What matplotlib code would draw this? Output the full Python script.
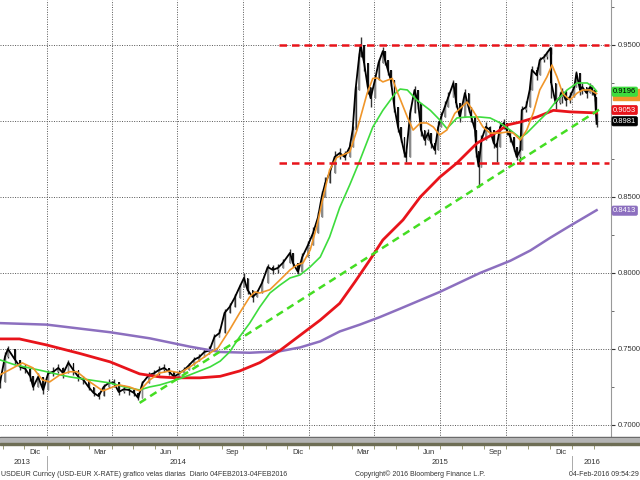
# USDEUR daily candles with moving averages, Bloomberg style
import pandas as pd
import matplotlib.pyplot as plt
import matplotlib.dates as mdates
import matplotlib.transforms as mtransforms
from matplotlib.patches import Rectangle
from matplotlib.ticker import MultipleLocator, FuncFormatter

plt.rcParams['font.family'] = ['Liberation Sans', 'DejaVu Sans']

# price readings (close, high, low)
dates = [
    '2013-10-28', '2013-11-04', '2013-11-08', '2013-11-18', '2013-11-25', '2013-12-02', '2013-12-09', '2013-12-13',
    '2013-12-20', '2013-12-27', '2014-01-03', '2014-01-10', '2014-01-17', '2014-01-24', '2014-01-31', '2014-02-07',
    '2014-02-14', '2014-02-21', '2014-02-28', '2014-03-07', '2014-03-14', '2014-03-21', '2014-03-28', '2014-04-04',
    '2014-04-11', '2014-04-18', '2014-04-25', '2014-05-02', '2014-05-08', '2014-05-14', '2014-05-23', '2014-05-30',
    '2014-06-06', '2014-06-13', '2014-06-20', '2014-06-27', '2014-07-04', '2014-07-11', '2014-07-18', '2014-07-25',
    '2014-08-01', '2014-08-08', '2014-08-15', '2014-08-22', '2014-08-29', '2014-09-05', '2014-09-12', '2014-09-19',
    '2014-09-26', '2014-10-02', '2014-10-07', '2014-10-14', '2014-10-20', '2014-10-27', '2014-11-04', '2014-11-11',
    '2014-11-18', '2014-11-25', '2014-12-05', '2014-12-09', '2014-12-16', '2014-12-22', '2014-12-30', '2015-01-06',
    '2015-01-13', '2015-01-18', '2015-01-23', '2015-01-29', '2015-02-05', '2015-02-12', '2015-02-19', '2015-02-26',
    '2015-03-02', '2015-03-06', '2015-03-11', '2015-03-13', '2015-03-18', '2015-03-23', '2015-03-27', '2015-04-02',
    '2015-04-07', '2015-04-13', '2015-04-16', '2015-04-20', '2015-04-24', '2015-04-29', '2015-05-04', '2015-05-08',
    '2015-05-13', '2015-05-15', '2015-05-21', '2015-05-27', '2015-06-01', '2015-06-05', '2015-06-10', '2015-06-15',
    '2015-06-19', '2015-06-24', '2015-06-29', '2015-07-03', '2015-07-08', '2015-07-13', '2015-07-20', '2015-07-24',
    '2015-07-29', '2015-08-05', '2015-08-10', '2015-08-14', '2015-08-19', '2015-08-21', '2015-08-24', '2015-08-28',
    '2015-09-03', '2015-09-09', '2015-09-14', '2015-09-18', '2015-09-23', '2015-09-28', '2015-10-02', '2015-10-07',
    '2015-10-12', '2015-10-16', '2015-10-21', '2015-10-23', '2015-10-29', '2015-11-03', '2015-11-06', '2015-11-13',
    '2015-11-17', '2015-11-23', '2015-11-27', '2015-12-02', '2015-12-03', '2015-12-09', '2015-12-15', '2015-12-18',
    '2015-12-23', '2015-12-29', '2016-01-04', '2016-01-07', '2016-01-12', '2016-01-15', '2016-01-21', '2016-01-26',
    '2016-01-29', '2016-02-02', '2016-02-03', '2016-02-04',
]
close = [
    0.7280, 0.7450, 0.7500, 0.7428, 0.7382, 0.7370, 0.7320, 0.7250,
    0.7316, 0.7230, 0.7340, 0.7350, 0.7375, 0.7340, 0.7410, 0.7360,
    0.7316, 0.7296, 0.7250, 0.7211, 0.7190, 0.7250, 0.7276, 0.7280,
    0.7217, 0.7235, 0.7230, 0.7211, 0.7178, 0.7276, 0.7329, 0.7340,
    0.7362, 0.7375, 0.7350, 0.7316, 0.7340, 0.7362, 0.7395, 0.7430,
    0.7447, 0.7480, 0.7490, 0.7579, 0.7605, 0.7737, 0.7776, 0.7836,
    0.7908, 0.7967, 0.7888, 0.7842, 0.7868, 0.7934, 0.8039, 0.8020,
    0.8033, 0.8066, 0.8132, 0.8066, 0.8007, 0.8105, 0.8184, 0.8263,
    0.8368, 0.8500, 0.8592, 0.8658, 0.8763, 0.8789, 0.8763, 0.8829,
    0.8941, 0.9204, 0.9421, 0.9500, 0.9380, 0.9224, 0.9150, 0.9270,
    0.9382, 0.9460, 0.9401, 0.9336, 0.9270, 0.9092, 0.8961, 0.8895,
    0.8789, 0.8763, 0.9053, 0.9204, 0.9118, 0.8941, 0.8875, 0.8921,
    0.8855, 0.8809, 0.8961, 0.9026, 0.9092, 0.9158, 0.9250, 0.9118,
    0.9026, 0.9184, 0.9092, 0.9026, 0.8941, 0.8800, 0.8700, 0.8875,
    0.8961, 0.8941, 0.8855, 0.8829, 0.8961, 0.8987, 0.8941, 0.8895,
    0.8829, 0.8763, 0.8810, 0.9072, 0.9092, 0.9204, 0.9336, 0.9300,
    0.9401, 0.9421, 0.9447, 0.9480, 0.9250, 0.9120, 0.9158, 0.9200,
    0.9138, 0.9158, 0.9224, 0.9316, 0.9204, 0.9224, 0.9184, 0.9224,
    0.9204, 0.9158, 0.9053, 0.8981,
]
high = [
    0.7310, 0.7480, 0.7520, 0.7460, 0.7420, 0.7400, 0.7350, 0.7290,
    0.7340, 0.7260, 0.7360, 0.7380, 0.7400, 0.7380, 0.7430, 0.7400,
    0.7350, 0.7320, 0.7290, 0.7250, 0.7220, 0.7270, 0.7300, 0.7300,
    0.7260, 0.7260, 0.7250, 0.7240, 0.7210, 0.7290, 0.7350, 0.7360,
    0.7390, 0.7400, 0.7375, 0.7350, 0.7360, 0.7380, 0.7410, 0.7450,
    0.7470, 0.7500, 0.7520, 0.7600, 0.7630, 0.7760, 0.7800, 0.7860,
    0.7930, 0.8000, 0.7930, 0.7870, 0.7890, 0.7960, 0.8060, 0.8050,
    0.8060, 0.8090, 0.8160, 0.8100, 0.8040, 0.8130, 0.8210, 0.8300,
    0.8400, 0.8540, 0.8630, 0.8690, 0.8800, 0.8820, 0.8800, 0.8860,
    0.8970, 0.9230, 0.9450, 0.9553, 0.9450, 0.9260, 0.9200, 0.9300,
    0.9410, 0.9490, 0.9440, 0.9380, 0.9310, 0.9150, 0.9000, 0.8930,
    0.8830, 0.8800, 0.9080, 0.9230, 0.9160, 0.8980, 0.8910, 0.8950,
    0.8890, 0.8850, 0.9000, 0.9060, 0.9130, 0.9190, 0.9270, 0.9160,
    0.9060, 0.9210, 0.9130, 0.9060, 0.8980, 0.8850, 0.8780, 0.8910,
    0.8990, 0.8970, 0.8890, 0.8860, 0.8990, 0.9010, 0.8980, 0.8930,
    0.8870, 0.8800, 0.8840, 0.9100, 0.9130, 0.9230, 0.9360, 0.9355,
    0.9420, 0.9440, 0.9460, 0.9490, 0.9300, 0.9184, 0.9190, 0.9220,
    0.9170, 0.9190, 0.9250, 0.9330, 0.9240, 0.9250, 0.9220, 0.9250,
    0.9240, 0.9200, 0.9150, 0.9030,
]
low = [
    0.7240, 0.7420, 0.7440, 0.7400, 0.7360, 0.7340, 0.7290, 0.7230,
    0.7280, 0.7205, 0.7300, 0.7320, 0.7340, 0.7310, 0.7370, 0.7330,
    0.7290, 0.7270, 0.7230, 0.7190, 0.7170, 0.7200, 0.7240, 0.7250,
    0.7200, 0.7210, 0.7200, 0.7190, 0.7165, 0.7250, 0.7300, 0.7320,
    0.7330, 0.7350, 0.7330, 0.7300, 0.7310, 0.7340, 0.7370, 0.7400,
    0.7420, 0.7450, 0.7470, 0.7540, 0.7580, 0.7700, 0.7740, 0.7800,
    0.7870, 0.7930, 0.7860, 0.7810, 0.7840, 0.7900, 0.8000, 0.7990,
    0.8000, 0.8030, 0.8100, 0.8040, 0.7990, 0.8070, 0.8150, 0.8230,
    0.8330, 0.8460, 0.8550, 0.8620, 0.8720, 0.8750, 0.8740, 0.8790,
    0.8900, 0.9150, 0.9380, 0.9460, 0.9330, 0.9180, 0.9092, 0.9220,
    0.9340, 0.9420, 0.9370, 0.9300, 0.9230, 0.9060, 0.8930, 0.8860,
    0.8760, 0.8730, 0.9010, 0.9160, 0.9080, 0.8900, 0.8840, 0.8890,
    0.8820, 0.8780, 0.8930, 0.8990, 0.9060, 0.9120, 0.9210, 0.9090,
    0.8990, 0.9150, 0.9060, 0.8990, 0.8900, 0.8763, 0.8566, 0.8840,
    0.8930, 0.8910, 0.8820, 0.8730, 0.8930, 0.8950, 0.8910, 0.8860,
    0.8800, 0.8740, 0.8730, 0.9020, 0.9060, 0.9170, 0.9290, 0.9270,
    0.9360, 0.9390, 0.9410, 0.9440, 0.9150, 0.9080, 0.9110, 0.9118,
    0.9100, 0.9120, 0.9190, 0.9270, 0.9170, 0.9180, 0.9150, 0.9190,
    0.9170, 0.9130, 0.9030, 0.8960,
]

# moving averages
ma20_dates = [
    '2013-10-28', '2013-11-10', '2013-11-28', '2013-12-13', '2013-12-26', '2014-01-05', '2014-01-19', '2014-02-02',
    '2014-02-12', '2014-02-26', '2014-03-12', '2014-03-20', '2014-04-03', '2014-04-12', '2014-04-26', '2014-05-10',
    '2014-05-24', '2014-06-07', '2014-06-21', '2014-07-05', '2014-07-19', '2014-08-02', '2014-08-16', '2014-08-27',
    '2014-09-12', '2014-09-26', '2014-10-10', '2014-10-17', '2014-10-24', '2014-11-07', '2014-11-21', '2014-12-05',
    '2014-12-15', '2014-12-23', '2015-01-02', '2015-01-11', '2015-01-20', '2015-01-29', '2015-02-08', '2015-02-26',
    '2015-03-08', '2015-03-22', '2015-03-30', '2015-04-05', '2015-04-13', '2015-04-26', '2015-05-04', '2015-05-17',
    '2015-05-25', '2015-06-04', '2015-06-13', '2015-06-22', '2015-07-01', '2015-07-11', '2015-07-22', '2015-08-08',
    '2015-08-16', '2015-08-30', '2015-09-09', '2015-09-23', '2015-10-03', '2015-10-11', '2015-10-21', '2015-10-30',
    '2015-11-08', '2015-11-17', '2015-11-27', '2015-12-04', '2015-12-11', '2015-12-19', '2015-12-29', '2016-01-08',
    '2016-01-16', '2016-01-26', '2016-02-04',
]
ma20 = [
    0.7330, 0.7362, 0.7408, 0.7375, 0.7296, 0.7283, 0.7329, 0.7350,
    0.7350, 0.7296, 0.7250, 0.7224, 0.7250, 0.7263, 0.7250, 0.7224,
    0.7296, 0.7342, 0.7355, 0.7342, 0.7382, 0.7428, 0.7474, 0.7507,
    0.7625, 0.7737, 0.7842, 0.7875, 0.7868, 0.7890, 0.7954, 0.8020,
    0.8053, 0.8066, 0.8151, 0.8303, 0.8500, 0.8678, 0.8760, 0.8796,
    0.8940, 0.9180, 0.9280, 0.9283, 0.9257, 0.9280, 0.9180, 0.9026,
    0.8940, 0.8987, 0.8987, 0.8961, 0.8908, 0.8941, 0.9050, 0.9125,
    0.9070, 0.8961, 0.8920, 0.8921, 0.8928, 0.8921, 0.8875, 0.8941,
    0.9053, 0.9204, 0.9290, 0.9368, 0.9290, 0.9180, 0.9138, 0.9184,
    0.9204, 0.9204, 0.9180,
]
ma50_dates = [
    '2013-10-28', '2013-11-18', '2013-12-08', '2014-01-01', '2014-01-19', '2014-02-02', '2014-03-02', '2014-03-30',
    '2014-04-19', '2014-05-10', '2014-05-24', '2014-06-07', '2014-06-30', '2014-07-19', '2014-08-16', '2014-08-30',
    '2014-09-12', '2014-09-26', '2014-10-10', '2014-10-24', '2014-11-07', '2014-11-21', '2014-12-05', '2014-12-19',
    '2015-01-02', '2015-01-16', '2015-01-29', '2015-02-12', '2015-02-26', '2015-03-12', '2015-03-30', '2015-04-13',
    '2015-04-30', '2015-05-07', '2015-05-17', '2015-05-30', '2015-06-18', '2015-07-01', '2015-07-11', '2015-07-25',
    '2015-08-08', '2015-08-26', '2015-09-09', '2015-09-23', '2015-10-07', '2015-10-21', '2015-10-30', '2015-11-13',
    '2015-11-27', '2015-12-11', '2015-12-25', '2016-01-08', '2016-01-22', '2016-01-30', '2016-02-04',
]
ma50 = [
    0.7428, 0.7395, 0.7375, 0.7350, 0.7330, 0.7316, 0.7296, 0.7276,
    0.7250, 0.7230, 0.7250, 0.7263, 0.7296, 0.7330, 0.7382, 0.7420,
    0.7480, 0.7580, 0.7670, 0.7776, 0.7868, 0.7920, 0.7967, 0.7987,
    0.8040, 0.8105, 0.8237, 0.8430, 0.8580, 0.8740, 0.8960, 0.9070,
    0.9180, 0.9210, 0.9204, 0.9138, 0.9070, 0.9007, 0.8950, 0.9020,
    0.9026, 0.9026, 0.9020, 0.8987, 0.8940, 0.8888, 0.8920, 0.8987,
    0.9053, 0.9138, 0.9204, 0.9250, 0.9250, 0.9224, 0.9196,
]
ma100_dates = [
    '2013-10-28', '2013-11-24', '2014-01-01', '2014-02-16', '2014-03-30', '2014-05-10', '2014-06-07', '2014-06-30',
    '2014-08-02', '2014-08-30', '2014-09-26', '2014-10-24', '2014-11-21', '2014-12-19', '2015-01-16', '2015-02-12',
    '2015-03-05', '2015-03-26', '2015-04-13', '2015-05-11', '2015-06-04', '2015-07-01', '2015-07-25', '2015-08-22',
    '2015-09-19', '2015-10-03', '2015-10-21', '2015-11-13', '2015-12-06', '2015-12-29', '2016-02-04',
]
ma100 = [
    0.7566, 0.7566, 0.7526, 0.7470, 0.7415, 0.7336, 0.7316, 0.7310,
    0.7310, 0.7320, 0.7355, 0.7410, 0.7490, 0.7590, 0.7690, 0.7800,
    0.7940, 0.8086, 0.8217, 0.8349, 0.8500, 0.8630, 0.8724, 0.8855,
    0.8928, 0.8974, 0.8993, 0.9026, 0.9070, 0.9060, 0.9053,
]
ma200_dates = [
    '2013-10-28', '2014-01-01', '2014-03-30', '2014-05-24', '2014-07-19', '2014-08-30', '2014-10-10', '2014-11-21',
    '2014-12-19', '2015-01-16', '2015-02-12', '2015-03-12', '2015-04-09', '2015-05-07', '2015-07-01', '2015-08-26',
    '2015-10-07', '2015-11-04', '2015-12-01', '2015-12-29', '2016-02-04',
]
ma200 = [
    0.7670, 0.7660, 0.7610, 0.7570, 0.7515, 0.7480, 0.7475, 0.7485,
    0.7510, 0.7550, 0.7615, 0.7660, 0.7710, 0.7765, 0.7875, 0.8000,
    0.8080, 0.8148, 0.8230, 0.8310, 0.8413,
]

# trend lines drawn on the chart
trend_dates = ['2014-05-10', '2016-02-11']
trend_vals = [0.7145, 0.9085]
band_dates = ['2014-11-19', '2016-02-21']
resistance = 0.9500
support = 0.8724

# last values shown in the tags (label, where the tag sits, box colour, text colour)
tags = [
    ('0.9196', 0.9193, '#3ddc3d', 'black'),
    ('0.8981', 0.8998, 'black', 'white'),
    ('0.9053', 0.9072, '#e8141b', 'white'),
    ('0.8413', 0.8410, '#8c6fbf', 'white'),
]
ma20_last = 0.9180
hidden_tick = 0.90  # its label sits under the black tag

d = pd.to_datetime(dates)
fig = plt.figure(figsize=(6.4, 4.8), dpi=100)
ax = fig.add_axes([0, 35 / 480, 611 / 640, 445 / 480])

ax.set_xlim(pd.Timestamp('2013-10-28'), pd.Timestamp('2016-02-24'))
ax.set_ylim(0.6868, 0.9796)

# grid
ax.xaxis.set_major_locator(mdates.MonthLocator(bymonth=[1, 4, 7, 10]))
ax.xaxis.set_minor_locator(mdates.MonthLocator())
ax.yaxis.set_major_locator(MultipleLocator(0.05))
ax.yaxis.set_minor_locator(MultipleLocator(0.025))
ax.grid(True, which='major', color='#555555', linestyle=(0, (1, 1.5)), linewidth=0.7, zorder=0)

# candles: open is the previous close
opens = [close[0]] + close[:-1]
hi = [max(h, o, c) for h, o, c in zip(high, opens, close)]
lo = [min(l, o, c) for l, o, c in zip(low, opens, close)]
ax.vlines(d, lo, hi, color='#333333', linewidth=1.0, zorder=3)
bottoms = [min(o, c) for o, c in zip(opens, close)]
heights = [max(abs(c - o), 0.0008) for o, c in zip(opens, close)]
cols = ['#8a8a8a' if c >= o else '#111111' for o, c in zip(opens, close)]
ax.bar(d, heights, bottom=bottoms, width=2.4, color=cols, linewidth=0, zorder=4)
ax.plot(d, close, color='black', linewidth=1.3, zorder=4)

# moving averages
ax.plot(pd.to_datetime(ma200_dates), ma200, color='#8c6fbf', linewidth=1.8, zorder=5)
ax.plot(pd.to_datetime(ma100_dates), ma100, color='#e8141b', linewidth=2.0, zorder=6)
ax.plot(pd.to_datetime(ma50_dates), ma50, color='#3ddc3d', linewidth=1.2, zorder=7)
ax.plot(pd.to_datetime(ma20_dates), ma20, color='#f0962a', linewidth=1.2, zorder=8)

# trend and range lines
ax.plot(pd.to_datetime(trend_dates), trend_vals, color='#44dd22', linewidth=1.8,
        linestyle=(0, (3, 2)), zorder=9)
bd = pd.to_datetime(band_dates)
ax.plot(bd, [resistance, resistance], color='#e8141b', linewidth=1.8, linestyle=(0, (3, 2)), zorder=9)
ax.plot(bd, [support, support], color='#e8141b', linewidth=1.8, linestyle=(0, (3, 2)), zorder=9)

# right axis
for s in ['top', 'left', 'bottom']:
    ax.spines[s].set_visible(False)
ax.spines['right'].set_color('#999999')
ax.spines['right'].set_linewidth(0.8)
ax.yaxis.tick_right()
ax.yaxis.set_major_formatter(FuncFormatter(lambda v, p: '' if abs(v - hidden_tick) < 1e-6 else f'{v:.4f}'))
ax.tick_params(axis='y', which='major', length=3, width=0.8, color='#333333', labelsize=5.5,
               labelcolor='#333333', pad=1.5)
ax.tick_params(axis='y', which='minor', length=2, width=0.6, color='#555555')
ax.tick_params(axis='x', which='both', length=3, width=0.6, color='#8a8a60', labelbottom=False)

# value tags; the orange 20-day tag sits under the green one
side = mtransforms.blended_transform_factory(ax.transAxes, ax.transData)
ax.add_patch(Rectangle((1.003, ma20_last - 0.0045), 0.05, 0.0075, transform=side, color='#f0962a',
                       clip_on=False, zorder=19))
for txt, v, fc, tc in tags:
    ax.annotate(txt, xy=(1.0, v), xycoords=('axes fraction', 'data'), xytext=(1.5, 0),
                textcoords='offset points', ha='left', va='center', fontsize=5.5, color=tc,
                annotation_clip=False, zorder=20,
                bbox=dict(boxstyle='round,pad=0.15,rounding_size=0.2', fc=fc, ec=fc, lw=0.5))

# grey band under the plot
fig.add_artist(Rectangle((0, 42 / 480), 1, 1.5 / 480, transform=fig.transFigure, color='#5a5a5a', zorder=1))
fig.add_artist(Rectangle((0, 37 / 480), 1, 5 / 480, transform=fig.transFigure, color='#b4b4b4', zorder=1))
fig.add_artist(Rectangle((0, 35 / 480), 1, 2 / 480, transform=fig.transFigure, color='#6e6e55', zorder=1))

# month and year labels
blend = mtransforms.blended_transform_factory(ax.transData, fig.transFigure)
for m, lab in [('2013-12-16', 'Dic'), ('2014-03-16', 'Mar'), ('2014-06-16', 'Jun'), ('2014-09-16', 'Sep'),
               ('2014-12-16', 'Dic'), ('2015-03-16', 'Mar'), ('2015-06-16', 'Jun'), ('2015-09-16', 'Sep'),
               ('2015-12-16', 'Dic')]:
    ax.text(pd.Timestamp(m), 27 / 480, lab, transform=blend, ha='center', va='center', fontsize=5.5,
            color='#333333')
for m, lab in [('2013-11-28', '2013'), ('2014-07-02', '2014'), ('2015-07-02', '2015'), ('2016-01-28', '2016')]:
    ax.text(pd.Timestamp(m), 17 / 480, lab, transform=blend, ha='center', va='center', fontsize=5.5,
            color='#333333')
for m in ['2014-01-01', '2016-01-01']:
    ax.plot([pd.Timestamp(m)] * 2, [10 / 480, 24 / 480], transform=blend, color='#aaaaaa',
            linewidth=0.7, clip_on=False)

fig.text(0.002, 6 / 480, 'USDEUR Curncy (USD-EUR X-RATE) grafico velas diarias  Diario 04FEB2013-04FEB2016',
         ha='left', va='center', fontsize=5, color='#333333')
fig.text(420 / 640, 6 / 480, 'Copyright\u00a9 2016 Bloomberg Finance L.P.', ha='center', va='center',
         fontsize=5, color='#333333')
fig.text(0.999, 6 / 480, '04-Feb-2016 09:54:29', ha='right', va='center', fontsize=5, color='#333333')

fig.savefig('out.png', dpi=100)
